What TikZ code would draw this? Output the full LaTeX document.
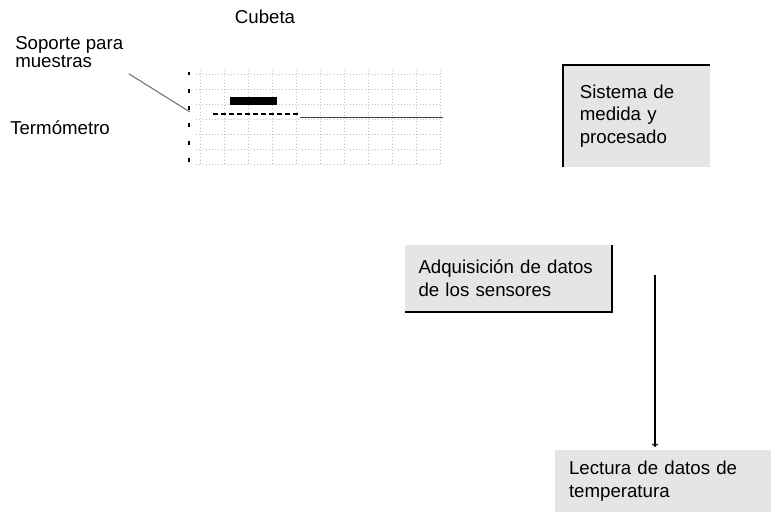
\documentclass[tikz,border=0pt]{standalone}
\usepackage{fontspec}
\setmainfont{Liberation Sans}
\usetikzlibrary{positioning}

\tikzset{
  etiqueta/.style={font=\fontsize{14}{14}\selectfont, align=left, inner sep=0pt},
  caja/.style={fill=black!10, inner sep=0pt, font=\fontsize{14}{17}\selectfont, align=left},
  rejilla/.style={black!25, dotted},
  borde/.style={black, line width=1.6pt},
}

\begin{document}
\begin{tikzpicture}[x=0.75pt,y=-0.75pt]
  \useasboundingbox (0,0) rectangle (771,517);

  % rejilla de la cubeta
  \foreach \y in {74,89,...,164}
    \draw[rejilla] (196,\y) -- (440,\y);
  \foreach \x in {200,224,...,440}
    \draw[rejilla] (\x,70) -- (\x,164);
  \draw[black, thick, dash pattern=on 3pt off 10pt] (189,162) -- (189,72);

  % etiquetas
  \node (cubeta) [etiqueta] at (265,17) {Cubeta};
  \node (soporte) [etiqueta, anchor=north west] at (15,36) {Soporte para\\muestras};
  \node (termo) [etiqueta, anchor=west] at (10,128) {Termómetro};

  % termómetro
  \node (sensor) [fill=black, inner sep=0pt, minimum width=35pt, minimum height=6pt] at (253.5,101) {};
  \coordinate (varilla-ini) at (213,114);
  \coordinate (varilla-med) at (300,114);
  \coordinate (varilla-fin) at (443,117);
  \draw[black, thick, dash pattern=on 4pt off 2pt] (varilla-ini) -- (varilla-med);
  \draw[black!75] (varilla-med |- varilla-fin) -- (varilla-fin);

  % soporte
  \coordinate (soporte-fin) at (190,112);
  \draw[black!55, thick] ([xshift=4pt,yshift=-4pt]soporte.south east) -- (soporte-fin);

  % cajas
  \node (sistema) [caja, minimum width=110.25pt, minimum height=76.5pt, text width=85pt] at (636.5,116) {Sistema de\\medida y\\procesado};
  \draw[borde] (sistema.south west) -- (sistema.north west) -- (sistema.north east);

  \node (adq) [caja, minimum width=155.25pt, minimum height=50.25pt, text width=135pt] at (508.5,278.5) {Adquisición de datos\\de los sensores};
  \draw[borde] (adq.north east) -- (adq.south east) -- (adq.south west);

  \node (lectura) [caja, minimum width=162pt, minimum height=46.5pt, text width=141pt] at (663,481) {Lectura de datos de\\temperatura};

  % flecha
  \coordinate (flecha-ini) at (655,275);
  \draw[->, thick] (flecha-ini) -- ([yshift=2pt]flecha-ini |- lectura.north);
\end{tikzpicture}
\end{document}
